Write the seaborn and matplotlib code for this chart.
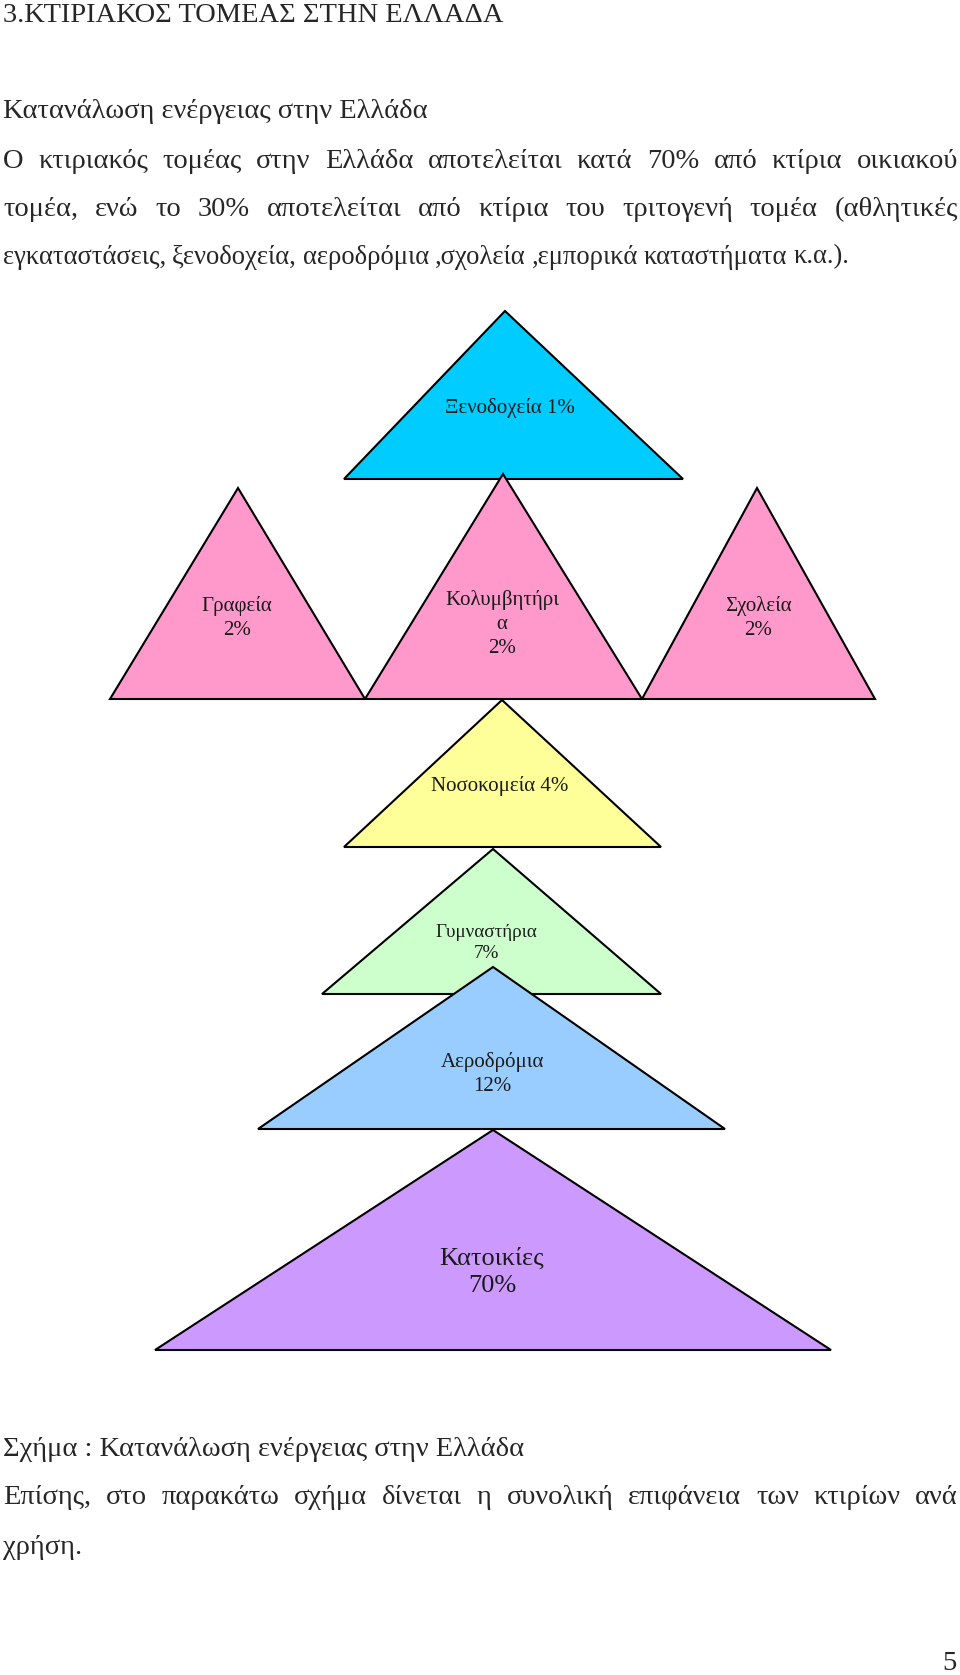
import seaborn as sns
import matplotlib.pyplot as plt

# triangle chart data (top to bottom)
labels = ["Ξενοδοχεία 1%", "Γραφεία\n2%", "Κολυμβητήρι\nα\n2%", "Σχολεία\n2%",
          "Νοσοκομεία 4%", "Γυμναστήρια\n7%", "Αεροδρόμια\n12%", "Κατοικίες\n70%"]
shares = [1, 2, 2, 2, 4, 7, 12, 70]
colors = ["#00CCFF", "#FF99CC", "#FF99CC", "#FF99CC",
          "#FFFF99", "#CCFFCC", "#99CCFF", "#CC99FF"]

# layout in page pixels: apex x, apex y, base y, base left, base right
shapes = [(505, 311, 479, 344, 683),
          (238, 488, 699, 110, 365),
          (503, 474, 699, 365, 642),
          (757, 488, 699, 642, 875),
          (502, 700, 847, 344, 661),
          (493, 849, 994, 322, 661),
          (493, 967, 1129, 258, 725),
          (493, 1130, 1350, 155, 831)]
label_pos = [(510, 408), (237, 618), (502, 624), (758, 618),
             (500, 786), (486, 943), (492, 1074), (492, 1272)]
label_size = [15, 15, 15, 15, 15, 13.8, 15, 19]

sns.set_style("white")
SERIF = ['Liberation Serif', 'DejaVu Serif']
plt.rcParams['font.family'] = SERIF

fig = plt.figure(figsize=(9.6, 16.75), dpi=100)
ax = fig.add_axes([0, 0, 1, 1])
ax.set_xlim(0, 960)
ax.set_ylim(1675, 0)
ax.axis("off")

for (ax_, ay, by, bl, br), c in zip(shapes, colors):
    ax.fill([bl, ax_, br], [by, ay, by], facecolor=c, edgecolor="black",
            linewidth=1.5, joinstyle="miter")

for lab, (x, y), s in zip(labels, label_pos, label_size):
    ax.text(x, y, lab, ha="center", va="center", fontsize=s, family=SERIF,
            linespacing=1.35, color="#1a1a1a")

FS = 20.5


def line(txt, y, x=3, size=FS):
    ax.text(x, y, txt, ha="left", va="center", fontsize=size, family=SERIF)


def place(txt, y, x0=3, x1=958, size=FS):
    words = txt.split(" ")
    objs = [ax.text(0, y, w, ha="left", va="center", fontsize=size, family=SERIF)
            for w in words]
    fig.canvas.draw()
    r = fig.canvas.get_renderer()
    widths = [t.get_window_extent(r).width for t in objs]
    gap = max((x1 - x0 - sum(widths)) / (len(words) - 1), 3)
    x = x0
    for t, w in zip(objs, widths):
        t.set_x(x)
        x += w + gap


line("3.ΚΤΙΡΙΑΚΟΣ ΤΟΜΕΑΣ ΣΤΗΝ ΕΛΛΑΔΑ", 15)
line("Κατανάλωση ενέργειας στην Ελλάδα", 111)
place("Ο κτιριακός τομέας στην Ελλάδα αποτελείται κατά 70% από κτίρια οικιακού", 162)
place("τομέα, ενώ το 30% αποτελείται από κτίρια του τριτογενή τομέα (αθλητικές", 209)
place("εγκαταστάσεις, ξενοδοχεία, αεροδρόμια ,σχολεία ,εμπορικά καταστήματα κ.α.).",
      257, x1=849, size=19.2)
line("Σχήμα : Κατανάλωση ενέργειας στην Ελλάδα", 1450)
place("Επίσης, στο παρακάτω σχήμα δίνεται η συνολική επιφάνεια των κτιρίων ανά", 1498)
line("χρήση.", 1547)
ax.text(957, 1663, "5", ha="right", va="center", fontsize=FS, family=SERIF)

fig.savefig("out.png", dpi=100, facecolor="white")
